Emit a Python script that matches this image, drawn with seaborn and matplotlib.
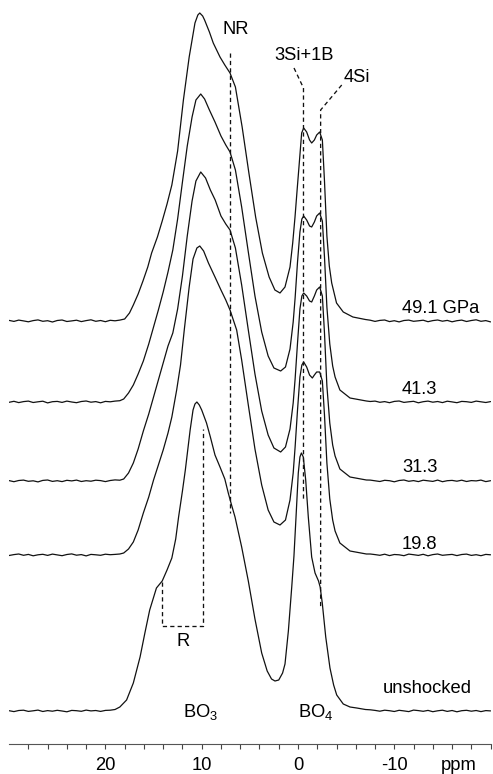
import matplotlib
matplotlib.use("Agg")
import matplotlib.pyplot as plt
import seaborn as sns
import pandas as pd

# ---------------- data (ppm, intensity in px above each trace's baseline) -------------
LABELS = ["49.1 GPa", "41.3", "31.3", "19.8", "unshocked"]

BASE_L_PPM = [30.0, 29.5, 29.0, 28.5, 28.0, 27.5, 27.0, 26.5, 26.0, 25.5, 25.0, 24.5,
              24.0, 23.5, 23.0, 22.5, 22.0, 21.5, 21.0, 20.5, 20.0, 19.5, 19.0, 18.5]
BASE_R_PPM = [-7.5, -8.0, -8.5, -9.0, -9.5, -10.0, -10.5, -11.0, -11.5, -12.0, -12.5, -13.0,
              -13.5, -14.0, -14.5, -15.0, -15.5, -16.0, -16.5, -17.0, -17.5, -18.0, -18.5,
              -19.0, -19.5, -20.0]

N49L = [0.6, -0.4, 0.9, 0.1, -0.8, 0.4, 1.1, -0.3, 0.3, -1.0, 0.5, 1.0, -0.5, 0.1, 0.8, -0.6,
        0.4, 1.2, -0.3, 0.5, -0.7, 0.7, 0.2, 0.9]
N41L = [-0.3, 0.7, -0.6, 0.4, 0.9, -0.5, 0.2, 0.8, -0.9, 0.3, 0.6, -0.4, 0.9, 0.0, -0.7, 0.5,
        1.0, -0.2, 0.4, -0.8, 0.6, 0.2, 0.9, 1.3]
N31L = [0.4, -0.7, 0.5, 0.9, -0.3, 0.2, -0.9, 0.6, 1.0, -0.4, 0.3, -0.6, 0.7, 0.1, 0.9, -0.5,
        0.3, -0.2, 0.8, 0.4, -0.6, 0.5, 1.1, 0.8]
N19L = [-0.5, 0.4, 1.0, -0.3, 0.6, -0.8, 0.2, 0.7, -0.4, 0.9, 0.1, -0.7, 0.5, 1.1, -0.2, 0.4,
        -0.9, 0.6, 0.2, -0.3, 0.8, 0.3, 0.6, 1.0]
N00L = [0.3, -0.6, 0.5, 0.8, -0.4, 0.2, 0.9, -0.5, 0.4, -0.2, 0.7, 0.0, -0.8, 0.6, 0.3, -0.3,
        0.9, 0.1, 0.5, -0.4, 0.6, 0.8, 1.5, 4.0]

N49R = [0.8, -0.4, 0.6, 1.0, -0.6, 0.3, -0.9, 0.5, 0.9, -0.3, 0.2, 0.8, -0.7, 0.4, 1.0, -0.2,
        0.6, -0.8, 0.3, 0.9, -0.5, 0.5, 1.2, -0.3, 0.4, -0.9]
N41R = [0.5, 0.9, -0.3, 0.4, -0.7, 0.6, 1.0, -0.4, 0.2, 0.7, -0.8, 0.3, 0.9, -0.2, 0.5, -0.6,
        0.8, 0.1, -0.7, 0.6, 0.3, -0.4, 0.9, 0.2, -0.5, 0.4]
N31R = [0.9, 0.2, -0.5, 0.7, 0.3, -0.8, 0.5, 1.0, -0.3, 0.4, -0.6, 0.8, 0.2, -0.4, 0.9, -0.7,
        0.3, 0.6, -0.2, 0.8, -0.5, 0.4, 0.1, 0.9, -0.6, 0.3]
N19R = [1.0, 0.4, -0.3, 0.8, -0.6, 0.5, 0.2, -0.7, 0.9, 0.3, -0.4, 0.7, -0.8, 0.4, 1.0, -0.3,
        0.2, 0.6, -0.6, 0.5, 0.9, -0.4, 0.3, -0.7, 0.6, 0.2]
N00R = [1.2, 0.6, -0.2, 0.8, 0.3, -0.5, 0.7, 0.1, -0.6, 0.9, 0.4, -0.3, 0.6, -0.7, 0.2, 0.8,
        -0.4, 0.5, -0.8, 0.3, 0.7, -0.2, 0.5, -0.6, 0.4, 0.1]

P49 = [18.0, 17.5, 17.1, 16.6, 16.1, 15.6, 15.2, 14.6, 14.1, 13.6, 13.1, 12.5, 11.9, 11.3,
       10.7, 10.4, 10.2, 9.9, 9.7, 9.2, 8.8, 8.1, 7.6, 7.06, 6.5, 5.8, 5.1, 4.4, 3.7, 3.0,
       2.4, 1.87, 1.35, 0.83, 0.55, 0.31, 0.1, -0.1, -0.38, -0.59, -0.9, -1.2, -1.42, -1.7,
       -1.94, -2.25, -2.53, -2.75, -3.0, -3.25, -3.5, -4.0, -4.7, -5.7, -7.0]
H49 = [2, 8, 16, 27, 40, 54, 68, 84, 100, 117, 136, 170, 221, 264,
       298, 306, 308, 305, 301, 289, 278, 264, 256, 248, 234, 194, 148, 104, 68, 44,
       31, 28, 34, 54, 78, 104, 130, 154, 188, 193, 189, 181, 178, 181,
       186, 189, 181, 140, 85, 55, 38, 18, 9, 4, 1.5]

P41 = [18.1, 17.6, 17.1, 16.6, 16.06, 15.5, 15.0, 14.5, 14.0, 13.5, 13.0, 12.5, 12.0, 11.5,
       11.0, 10.6, 10.1, 9.7, 9.2, 8.62, 8.0, 7.5, 7.06, 6.5, 5.85, 5.16, 4.47, 3.77, 3.1,
       2.5, 1.8, 1.3, 0.83, 0.5, 0.3, 0.05, -0.2, -0.4, -0.59, -0.9, -1.2, -1.42, -1.7,
       -1.94, -2.25, -2.53, -2.75, -3.0, -3.3, -3.6, -3.85, -4.35, -5.4, -7.1]
H41 = [3, 9, 17, 28, 41, 58, 75, 92, 110, 130, 152, 183, 220, 256,
       285, 302, 308, 303, 292, 280, 266, 257, 250, 232, 195, 150, 106, 70, 46,
       34, 31, 35, 53, 80, 104, 140, 170, 183, 186, 182, 176, 175, 180,
       186, 189, 181, 145, 95, 58, 36, 25, 12, 4, 1]

P31 = [18.1, 17.6, 17.1, 16.6, 16.06, 15.5, 15.0, 14.5, 14.0, 13.5, 13.0, 12.5, 12.0, 11.5,
       11.0, 10.6, 10.1, 9.6, 9.1, 8.6, 8.0, 7.5, 7.06, 6.5, 5.85, 5.16, 4.47, 3.77, 3.1,
       2.5, 1.8, 1.3, 0.83, 0.5, 0.3, 0.05, -0.2, -0.4, -0.59, -0.9, -1.2, -1.42, -1.7,
       -1.94, -2.25, -2.53, -2.75, -3.0, -3.3, -3.6, -3.85, -4.35, -5.4, -7.1]
H31 = [2, 8, 18, 32, 50, 67, 84, 101, 118, 135, 148, 172, 205, 245,
       280, 300, 309, 303, 291, 281, 265, 257, 251, 233, 196, 151, 107, 70, 46,
       33, 29, 34, 52, 78, 102, 138, 172, 185, 188, 185, 180, 179, 185,
       191, 194, 185, 148, 95, 58, 36, 25, 12, 4, 1]

P19 = [18.1, 17.6, 17.1, 16.6, 16.06, 15.5, 15.0, 14.5, 14.0, 13.5, 13.1, 12.6, 12.2, 11.8,
       11.3, 10.9, 10.5, 10.2, 9.8, 9.3, 8.62, 8.0, 7.5, 7.06, 6.37, 5.85, 5.16, 4.47, 3.77,
       3.1, 2.5, 1.87, 1.3, 0.83, 0.5, 0.3, 0.05, -0.2, -0.4, -0.59, -0.9, -1.2, -1.49, -1.7,
       -1.94, -2.25, -2.53, -2.75, -3.0, -3.3, -3.6, -3.85, -4.35, -5.4, -7.1]
H19 = [2, 6, 13, 25, 42, 58, 75, 90, 105, 122, 138, 165, 190, 226,
       268, 296, 307, 309, 304, 292, 278, 265, 255, 245, 225, 195, 150, 106, 70,
       45, 33, 30, 35, 55, 82, 108, 145, 178, 190, 193, 188, 180, 177, 180,
       183, 183, 174, 140, 92, 56, 35, 24, 12, 4, 1]

P00 = [17.8, 17.1, 16.4, 15.9, 15.4, 14.7, 14.1, 13.6, 13.1, 12.7, 12.4, 12.0, 11.7, 11.2,
       10.9, 10.7, 10.5, 10.25, 10.0, 9.5, 9.1, 8.62, 8.1, 7.6, 7.24, 6.9, 6.54, 5.85, 5.16,
       4.47, 3.77, 3.2, 2.75, 2.39, 2.0, 1.6, 1.35, 1.0, 0.65, 0.42, 0.2, -0.03, -0.2, -0.35,
       -0.55, -0.8, -1.07, -1.42, -1.77, -2.13, -2.3, -2.52, -2.88, -3.32, -3.7, -4.02, -4.7,
       -5.4, -6.1, -7.0]
H00 = [11, 28, 54, 78, 101, 123, 130, 141, 153, 172, 194, 220, 241, 281,
       301, 307, 309, 306, 301, 288, 274, 256, 244, 232, 218, 206, 194, 164, 130,
       92, 58, 40, 32, 30, 31, 38, 47, 80, 124, 155, 195, 238, 254, 258,
       254, 231, 194, 154, 138, 130, 124, 108, 74, 43, 26, 16, 7,
       4, 3, 1.5]

TICK_MAJOR = [20, 10, 0, -10]
TICK_MINOR = [28, 26, 24, 22, 20, 18, 16, 14, 12, 10, 8, 6, 4, 2, 0, -2, -4, -6, -8, -10,
              -12, -14, -16, -18, -20]

# ---------------- layout ----------------
W, H = 493, 774
OFFSETS = [423, 342, 263, 189, 33]    # baseline heights (px above axis line)

sns.set_theme(style="white")
plt.rcParams["font.family"] = ["Liberation Sans", "DejaVu Sans"]
plt.rcParams["mathtext.fontset"] = "custom"
plt.rcParams["mathtext.rm"] = "Liberation Sans"
plt.rcParams["mathtext.it"] = "Liberation Sans:italic"
plt.rcParams["text.color"] = "black"
plt.rcParams["xtick.color"] = "black"

fig = plt.figure(figsize=(W / 100, H / 100), dpi=100)
ax = fig.add_axes([9.1 / W, 30 / H, 481.5 / W, 744 / H])

spectra = [(P49, H49, N49L, N49R), (P41, H41, N41L, N41R), (P31, H31, N31L, N31R),
           (P19, H19, N19L, N19R), (P00, H00, N00L, N00R)]
frames = []
for lab, off, (pp, hh, nl, nr) in zip(LABELS, OFFSETS, spectra):
    x = BASE_L_PPM + pp + BASE_R_PPM
    y = [v + off for v in (nl + hh + nr)]
    frames.append(pd.DataFrame({"ppm": x, "y": y, "sample": lab}))
df = pd.concat(frames, ignore_index=True)

for lab in LABELS:
    sub = df[df["sample"] == lab]
    sns.lineplot(data=sub, x="ppm", y="y", sort=False, estimator=None,
                 color="#111111", lw=0.9, ax=ax)

ax.set_xlim(30, -20)
ax.set_ylim(0, 744)
ax.set_xlabel("")
ax.set_ylabel("")
ax.set_yticks([])
ax.set_xticks(TICK_MAJOR)
ax.set_xticklabels([str(t) for t in TICK_MAJOR])
ax.set_xticks(TICK_MINOR, minor=True)
ax.tick_params(axis="x", which="both", direction="out", length=3.8, width=0.8,
               color="#444444", bottom=True)
ax.tick_params(axis="x", which="major", pad=5.5, labelsize=13.2, labelcolor="black")
for s in ["top", "left", "right"]:
    ax.spines[s].set_visible(False)
ax.spines["bottom"].set_color("#555555")
ax.spines["bottom"].set_linewidth(0.8)
ax.patch.set_alpha(0)

fs = 13.2
# "ppm" unit label at tick label height
ax.text(-16.7, -21.5, "ppm", ha="center", va="center", fontsize=fs, color="black",
        clip_on=False)

# dashed guide lines
dash = dict(color="#111111", lw=0.95, ls=(0, (3.2, 2.4)))
ax.plot([7.06, 7.06], [691, 231], **dash)                         # NR
ax.plot([0.415, -0.57, -0.57], [676, 656, 244], **dash)           # 3Si+1B
ax.plot([-4.54, -2.35, -2.35], [659, 634, 136], **dash)           # 4Si
ax.plot([14.09, 14.09, 9.9, 9.9], [162.3, 118, 118, 315], **dash) # R bracket

ax.text(6.44, 715, "NR", ha="center", va="center", fontsize=fs)
ax.text(-0.67, 688, "3Si+1B", ha="center", va="center", fontsize=fs)
ax.text(-6.07, 667, "4Si", ha="center", va="center", fontsize=fs)
ax.text(11.97, 102.3, "R", ha="center", va="center", fontsize=fs)
ax.text(11.97, 27.3, r"BO$_3$", ha="left", va="baseline", fontsize=fs)
ax.text(-0.03, 27.3, r"BO$_4$", ha="left", va="baseline", fontsize=fs)

ax.text(-10.8, 430.7, "49.1 GPa", ha="left", va="baseline", fontsize=fs)
ax.text(-10.8, 350.0, "41.3", ha="left", va="baseline", fontsize=fs)
ax.text(-10.8, 271.7, "31.3", ha="left", va="baseline", fontsize=fs)
ax.text(-10.8, 195.0, "19.8", ha="left", va="baseline", fontsize=fs)
ax.text(-8.83, 50.7, "unshocked", ha="left", va="baseline", fontsize=fs)

fig.savefig("out.png", dpi=100, facecolor="white")
